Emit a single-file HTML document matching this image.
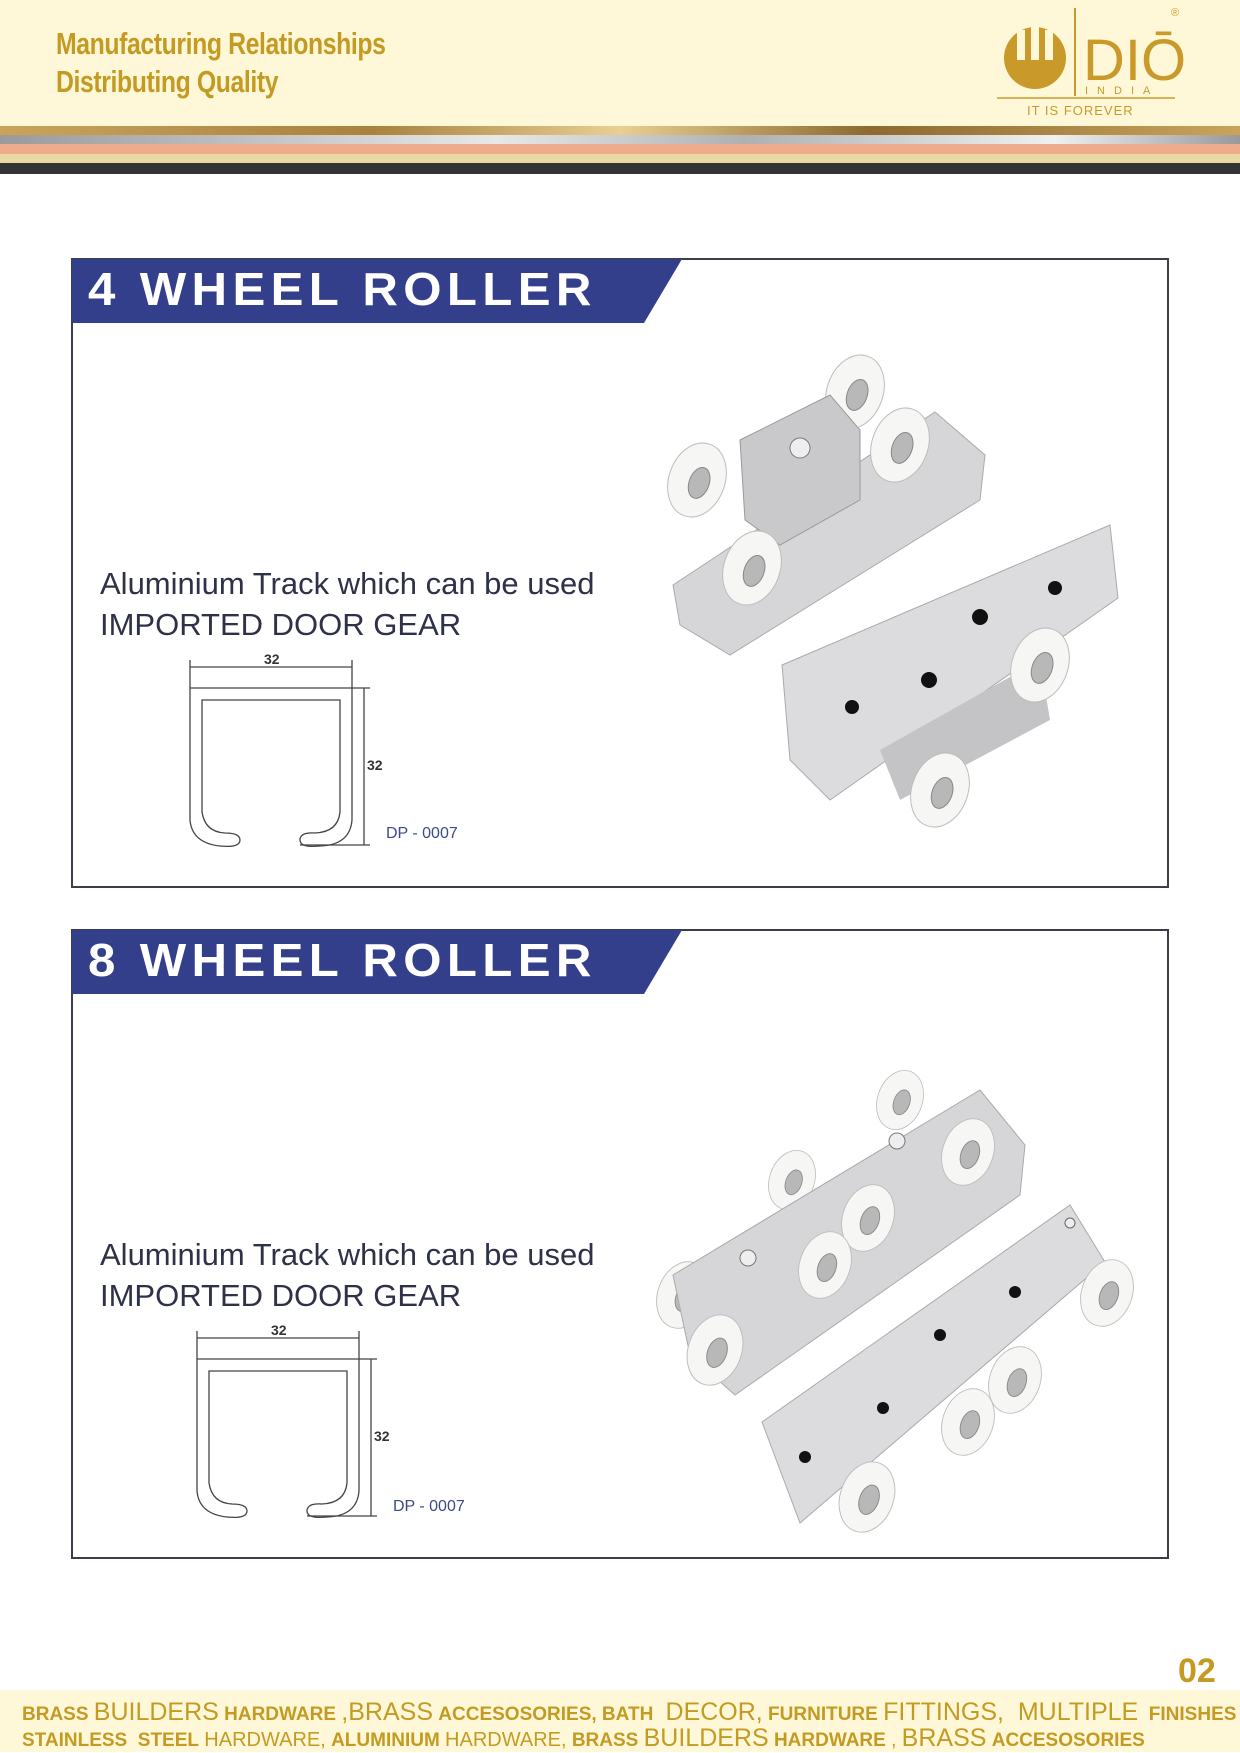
<!DOCTYPE html>
<html><head><meta charset="utf-8">
<style>
*{margin:0;padding:0;box-sizing:border-box}
body{width:1240px;height:1752px;background:#fff;position:relative;overflow:hidden;font-family:"Liberation Sans",sans-serif}
.abs{position:absolute}
.hdr{left:0;top:0;width:1240px;height:126px;background:#fef8d8}
.tag{left:56px;font-family:"Liberation Sans Narrow","Liberation Sans",sans-serif;font-weight:bold;color:#c49a22;font-size:31px;transform:scaleX(.8);transform-origin:left;letter-spacing:-0.5px}
.box{left:71px;width:1098px;height:630px;border:2px solid #3a3d4a;background:#fff}
.ttl{left:88px;color:#fff;font-weight:bold;font-size:46px;letter-spacing:5px;transform:scaleX(1.07);transform-origin:left}
.txt{left:100px;color:#2e3148;font-size:31px}
.foot{left:0;top:1690px;width:1240px;height:62px;background:#fef8d8}
.fl{left:22px;color:#c49a22;font-size:19px;white-space:nowrap;font-family:"Liberation Sans Narrow","Liberation Sans",sans-serif}
.fl b{font-size:19px}.fl span{font-size:25px;font-weight:normal}
</style></head><body>
<div class="abs hdr"></div>
<div class="abs tag" style="top:26px">Manufacturing Relationships</div>
<div class="abs tag" style="top:64px">Distributing Quality</div>
<!-- logo -->
<svg class="abs" style="left:995px;top:0" width="190" height="125">
 <circle cx="40" cy="58" r="31" fill="#c99a2a"/>
 <rect x="22" y="30" width="8" height="30" fill="#fef8d8"/><rect x="36" y="24" width="8" height="36" fill="#fef8d8"/><rect x="50" y="30" width="8" height="30" fill="#fef8d8"/>
 <line x1="80" y1="8" x2="80" y2="96" stroke="#c99a2a" stroke-width="2"/>
 <text x="88" y="80" font-family="Liberation Sans Narrow,Liberation Sans,sans-serif" font-size="58" fill="#c99a2a">DIŌS</text>
 <text x="90" y="94" font-size="11" fill="#c99a2a" letter-spacing="9">INDIA</text>
 <line x1="2" y1="98" x2="180" y2="98" stroke="#c99a2a" stroke-width="1.5"/>
 <text x="32" y="115" font-size="13" fill="#c99a2a" letter-spacing="1">IT IS FOREVER</text>
 <text x="176" y="16" font-size="11" fill="#c99a2a">®</text>
</svg>
<div class="abs" style="left:0;top:126px;width:1240px;height:9px;background:linear-gradient(90deg,#c9a45a,#a8823e 30%,#e8cf92 50%,#8c6a30 70%,#c9a45a)"></div>
<div class="abs" style="left:0;top:135px;width:1240px;height:9px;background:linear-gradient(90deg,#9a9a9a,#e8e8e8 40%,#b0b0b0 60%,#f0f0f0 85%,#999)"></div>
<div class="abs" style="left:0;top:144px;width:1240px;height:10px;background:#eeab8e"></div>
<div class="abs" style="left:0;top:154px;width:1240px;height:9px;background:#ead9a2"></div>
<div class="abs" style="left:0;top:163px;width:1240px;height:11px;background:#333436"></div>

<!-- box 1 -->
<div class="abs box" style="top:258px"></div>
<svg class="abs" style="left:72px;top:259px" width="612" height="64"><polygon points="0,0 610,0 572,64 0,64" fill="#333f8a"/></svg>
<div class="abs ttl" style="top:262px">4 WHEEL ROLLER</div>
<div class="abs txt" style="top:566px">Aluminium Track which can be used</div>
<div class="abs txt" style="top:607px">IMPORTED DOOR GEAR</div>

<!-- box 2 -->
<div class="abs box" style="top:929px"></div>
<svg class="abs" style="left:72px;top:930px" width="612" height="64"><polygon points="0,0 610,0 572,64 0,64" fill="#333f8a"/></svg>
<div class="abs ttl" style="top:933px">8 WHEEL ROLLER</div>
<div class="abs txt" style="top:1237px">Aluminium Track which can be used</div>
<div class="abs txt" style="top:1278px">IMPORTED DOOR GEAR</div>

<svg class="abs" style="left:0;top:0" width="1240" height="1752">
 <defs>
  <g id="prof" fill="none" stroke="#444" stroke-width="1.3">
   <path d="M190,820 L190,688 L352,688 L352,820 Q350,845 320,846 Q300,848 300,840 Q300,832 315,833 Q338,832 340,812 L340,700 L202,700 L202,812 Q205,832 225,833 Q240,833 240,840 Q240,848 220,846 Q192,843 190,820"/>
   <line x1="190" y1="667" x2="352" y2="667"/><line x1="190" y1="660" x2="190" y2="688"/><line x1="352" y1="660" x2="352" y2="688"/>
   <line x1="364" y1="688" x2="364" y2="845"/><line x1="352" y1="688" x2="370" y2="688"/><line x1="300" y1="845" x2="370" y2="845"/>
  </g>
  <g id="wheel"><ellipse cx="0" cy="0" rx="28" ry="38" fill="#f6f6f4" stroke="#bdbdbd"/><ellipse cx="3" cy="2" rx="10" ry="16" fill="#b8b8b8" stroke="#888"/></g>
 </defs>
 <use href="#prof"/>
 <text x="264" y="664" font-size="14" font-weight="bold" fill="#333">32</text>
 <text x="367" y="770" font-size="14" font-weight="bold" fill="#333">32</text>
 <text x="386" y="838" font-size="16" fill="#3b4a8a">DP - 0007</text>
 <g transform="translate(7,671)"><use href="#prof"/></g>
 <text x="271" y="1335" font-size="14" font-weight="bold" fill="#333">32</text>
 <text x="374" y="1441" font-size="14" font-weight="bold" fill="#333">32</text>
 <text x="393" y="1511" font-size="16" fill="#3b4a8a">DP - 0007</text>

 <!-- 4 wheel product -->
 <use href="#wheel" transform="translate(855,392) rotate(20)"/>
 <use href="#wheel" transform="translate(697,480) rotate(20)"/>
 <polygon points="673,585 935,412 985,455 980,500 730,655 680,625" fill="#d6d6d8" stroke="#aaa"/>
 <polygon points="740,440 830,395 860,430 860,500 780,545 745,520" fill="#c9c9cb" stroke="#999"/>
 <circle cx="800" cy="448" r="10" fill="#eee" stroke="#777"/>
 <use href="#wheel" transform="translate(900,445) rotate(20)"/>
 <use href="#wheel" transform="translate(752,568) rotate(20)"/>
 <polygon points="782,665 1110,525 1118,598 830,800 790,760" fill="#dcdcde" stroke="#aaa"/>
 <polygon points="880,750 1040,660 1050,720 900,800" fill="#c4c4c6"/>
 <circle cx="852" cy="707" r="7" fill="#111"/><circle cx="929" cy="680" r="8" fill="#111"/><circle cx="980" cy="617" r="8" fill="#111"/><circle cx="1055" cy="588" r="7" fill="#111"/>
 <use href="#wheel" transform="translate(1040,665) rotate(20)"/>
 <use href="#wheel" transform="translate(940,790) rotate(20)"/>

 <!-- 8 wheel product -->
 <use href="#wheel" transform="translate(900,1100) rotate(20) scale(.8)"/>
 <use href="#wheel" transform="translate(792,1180) rotate(20) scale(.8)"/>
 <use href="#wheel" transform="translate(683,1295) rotate(20) scale(.9)"/>
 <polygon points="673,1275 980,1090 1025,1145 1020,1195 735,1395 690,1355" fill="#d6d6d8" stroke="#aaa"/>
 <circle cx="748" cy="1258" r="8" fill="#eee" stroke="#777"/><circle cx="897" cy="1141" r="8" fill="#eee" stroke="#777"/>
 <use href="#wheel" transform="translate(968,1152) rotate(20) scale(.9)"/>
 <use href="#wheel" transform="translate(868,1218) rotate(20) scale(.9)"/>
 <use href="#wheel" transform="translate(825,1265) rotate(20) scale(.9)"/>
 <use href="#wheel" transform="translate(715,1350) rotate(20) scale(.95)"/>
 <polygon points="762,1422 1070,1205 1105,1262 800,1523" fill="#dcdcde" stroke="#aaa"/>
 <circle cx="805" cy="1457" r="6" fill="#111"/><circle cx="883" cy="1408" r="6" fill="#111"/><circle cx="940" cy="1335" r="6" fill="#111"/><circle cx="1015" cy="1292" r="6" fill="#111"/><circle cx="1070" cy="1223" r="5" fill="#eee" stroke="#666"/>
 <use href="#wheel" transform="translate(1107,1293) rotate(20) scale(.9)"/>
 <use href="#wheel" transform="translate(1015,1380) rotate(20) scale(.9)"/>
 <use href="#wheel" transform="translate(968,1422) rotate(20) scale(.9)"/>
 <use href="#wheel" transform="translate(867,1497) rotate(20) scale(.95)"/>
</svg>

<div class="abs" style="left:1178px;top:1652px;color:#c49a22;font-size:34px;font-weight:bold;font-family:'Liberation Sans Narrow','Liberation Sans',sans-serif">02</div>
<div class="abs foot"></div>
<div class="abs fl" style="top:1698px"><b>BRASS</b> <span>BUILDERS</span> <b>HARDWARE</b> <span>,BRASS</span> <b>ACCESOSORIES, BATH</b> <span>&nbsp;DECOR,</span> <b>FURNITURE</b> <span>FITTINGS, &nbsp;MULTIPLE</span> &nbsp;<b>FINISHES</b></div>
<div class="abs fl" style="top:1724px"><b>STAINLESS &nbsp;STEEL</b> <span style="font-size:20px">HARDWARE,</span> <b>ALUMINIUM</b> <span style="font-size:20px">HARDWARE,</span> <b>BRASS</b> <span>BUILDERS</span> <b>HARDWARE</b> , <span>BRASS</span> <b>ACCESOSORIES</b></div>
</body></html>
